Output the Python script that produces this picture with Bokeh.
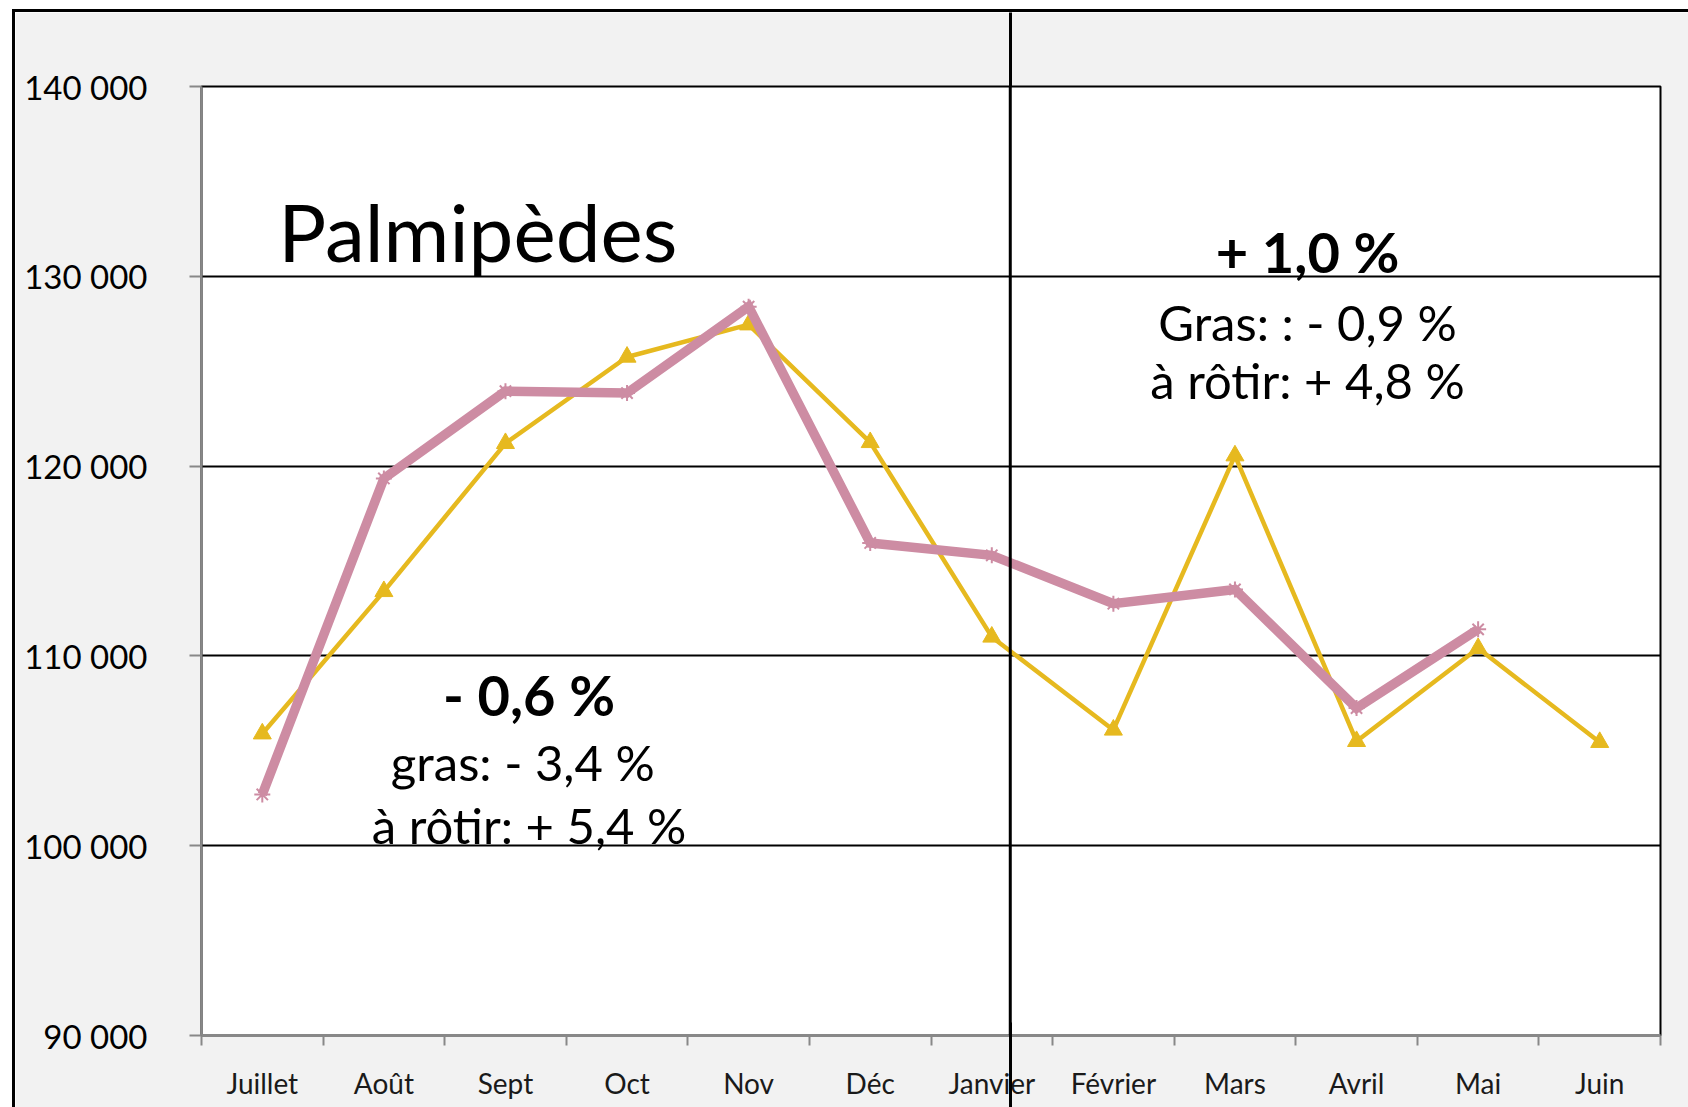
from bokeh.plotting import figure
from bokeh.models import FixedTicker, LinearAxis, Range1d, Span
from bokeh.core.properties import value
from bokeh.embed import file_html
from bokeh.resources import INLINE

# ---------------- data ----------------
months = ["Juillet", "Août", "Sept", "Oct", "Nov", "Déc",
          "Janvier", "Février", "Mars", "Avril", "Mai", "Juin"]
serie_jaune = [105900, 113400, 121200, 125750, 127450, 121250,
               111000, 106100, 120550, 105500, 110400, 105450]
serie_rose = [102700, 119350, 123950, 123850, 128400, 115950,
              115300, 112750, 113500, 107250, 111400]
y_ticks = [90000, 100000, 110000, 120000, 130000, 140000]
y_tick_labels = ["90 000", "100 000", "110 000", "120 000", "130 000", "140 000"]

title_text = "Palmipèdes"
left_notes = ["- 0,6 %", "gras:  - 3,4 %", "à rôtir: + 5,4 %"]
right_notes = ["+ 1,0 %", "Gras: : - 0,9 %", "à rôtir: + 4,8 %"]

# ---------------- layout ----------------
MX, MY, BW = 12, 9, 3          # outer black frame drawn as a css border
W, H = 1688 - MX, 1107 - MY
OFF_X, OFF_Y = MX + BW, MY + BW
BL, BR, BT, BB = 201 - OFF_X, 31, 86 - OFF_Y, 75
x0, x1 = 0, len(months)
y0, y1 = y_ticks[0], y_ticks[-1]

p = figure(width=W, height=H, x_range=Range1d(x0, x1), y_range=Range1d(y0, y1),
           output_backend="svg", toolbar_location=None,
           min_border_left=BL, min_border_right=BR,
           min_border_top=BT, min_border_bottom=BB,
           styles={"margin-left": f"{MX}px", "margin-top": f"{MY}px",
                   "border-left": f"{BW}px solid black",
                   "border-top": f"{BW}px solid black"})
p.border_fill_color = "#f2f2f2"
p.background_fill_color = "white"
p.outline_line_color = "black"
p.outline_line_width = 2

# x axis
xc = [i + 0.5 for i in range(len(months))]
p.xaxis.ticker = FixedTicker(ticks=xc, minor_ticks=list(range(len(months) + 1)))
p.xaxis.major_label_overrides = {c: m for c, m in zip(xc, months)}
p.xaxis.major_tick_out = 0
p.xaxis.major_tick_in = 0
p.xaxis.minor_tick_out = 10
p.xaxis.minor_tick_in = 0
p.xaxis.minor_tick_line_color = "#888888"
p.xaxis.minor_tick_line_width = 2
p.xaxis.axis_line_color = "#888888"
p.xaxis.axis_line_width = 3
p.xaxis.major_label_text_font = "Lato"
p.xaxis.major_label_text_font_size = "28px"
p.xaxis.major_label_text_color = "#1a1a1a"
p.xaxis.major_label_standoff = 20

# y axis
p.yaxis.ticker = FixedTicker(ticks=y_ticks, minor_ticks=[])
p.yaxis.major_label_overrides = {t: l for t, l in zip(y_ticks, y_tick_labels)}
p.yaxis.major_tick_out = 12
p.yaxis.major_tick_in = 0
p.yaxis.major_tick_line_color = "#888888"
p.yaxis.major_tick_line_width = 2
p.yaxis.axis_line_color = "#888888"
p.yaxis.axis_line_width = 2
p.yaxis.major_label_text_font = "Lato"
p.yaxis.major_label_text_font_size = "33px"
p.yaxis.major_label_text_color = "#000000"
p.yaxis.major_label_standoff = 42

p.xgrid.visible = False
p.ygrid.ticker = FixedTicker(ticks=y_ticks[1:])
p.ygrid.grid_line_color = "black"
p.ygrid.grid_line_width = 2

# series
yel = "#e6b91f"
pink = "#cd8ca3"
p.line(xc, serie_jaune, line_color=yel, line_width=4.5)
p.scatter(xc, serie_jaune, marker="triangle", size=18, fill_color=yel, line_color=yel)
xr = xc[:len(serie_rose)]
p.line(xr, serie_rose, line_color=pink, line_width=9.5, line_join="miter")
p.scatter(xr, serie_rose, marker="asterisk", size=16, line_color=pink, line_width=2)

# texts
p.text(x=[0.631], y=[132400], text=[title_text], text_font=value("Lato"),
       text_font_size="80px", text_align="left", text_baseline="alphabetic",
       text_color="black")

lx, rx = 2.694, 9.097
p.text(x=[lx], y=[107950], text=[left_notes[0]], text_font=value("Lato"),
       text_font_style="bold", text_font_size="56px", text_align="center",
       text_baseline="alphabetic", text_color="black")
p.text(x=[lx, lx], y=[104430, 101090], text=left_notes[1:], text_font=value("Lato"),
       text_font_size="49px", text_align="center", text_baseline="alphabetic",
       text_color="black")
p.text(x=[rx], y=[131300], text=[right_notes[0]], text_font=value("Lato"),
       text_font_style="bold", text_font_size="56px", text_align="center",
       text_baseline="alphabetic", text_color="black")
p.text(x=[rx, rx], y=[127610, 124540], text=right_notes[1:], text_font=value("Lato"),
       text_font_size="49px", text_align="center", text_baseline="alphabetic",
       text_color="black")

# divider between the two halves of the campaign (Janvier)
divider_x = 6.652
p.add_layout(Span(location=divider_x, dimension="height",
                  line_color="black", line_width=3))


def divider_axis(tick_in, tick_out):
    return LinearAxis(ticker=FixedTicker(ticks=[divider_x], minor_ticks=[]),
                      major_label_overrides={divider_x: ""},
                      major_label_text_font_size="0px", major_label_standoff=0,
                      axis_line_color=None, minor_tick_line_color=None,
                      major_tick_line_color="black", major_tick_line_width=3,
                      major_tick_in=tick_in, major_tick_out=tick_out)


p.add_layout(divider_axis(0, BT), "above")
p.add_layout(divider_axis(80, 8), "below")

open("out.html", "w").write(file_html(p, INLINE))
